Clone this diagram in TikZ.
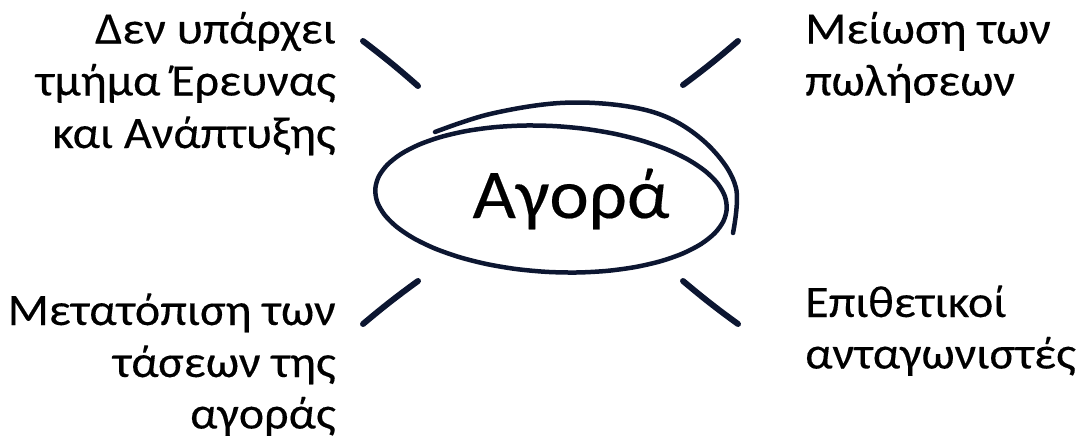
\documentclass[tikz,border=0pt]{standalone}
\usepackage{fontspec}
\setmainfont{Carlito}[FakeStretch=1.07, FakeBold=0.25]
\definecolor{ink}{HTML}{0C1631}
\begin{document}
\begin{tikzpicture}[x=1pt,y=-1pt,
  lbl/.style={inner sep=0pt, font=\fontsize{45}{52}\selectfont, text=black},
  big/.style={inner sep=0pt, font=\fontsize{70}{84}\selectfont, text=black},
  brush/.style={draw=ink, line width=6pt, line cap=round, line join=round},
  loop/.style={draw=ink, line width=4.5pt, line cap=round, line join=round}]
\useasboundingbox (0,0) rectangle (1081,445);
% central ellipse (hand drawn look)
\draw[loop] plot[smooth cycle, domain=0:350, samples=36, variable=\t]
  ({551+176*cos(\t)*0.9984-73*sin(\t)*0.0558},{199+176*cos(\t)*0.0558+73*sin(\t)*0.9984});
\draw[loop] plot[smooth, tension=0.6] coordinates {(435,132) (490,114) (560,103) (625,106) (673,120) (713,150) (736,188) (733,233)};
\node[big, anchor=base] (center) at (571,218) {Αγορά};
% strokes
\coordinate (tlA) at (363,41);  \coordinate (tlB) at (418,86);
\coordinate (trA) at (683,85);  \coordinate (trB) at (738,41);
\coordinate (blA) at (363,324); \coordinate (blB) at (418,281);
\coordinate (brA) at (683,281); \coordinate (brB) at (738,324);
\draw[brush] (tlA) to[bend left=2] (tlB);
\draw[brush] (trA) to[bend right=2] (trB);
\draw[brush] (blA) to[bend left=2] (blB);
\draw[brush] (brA) to[bend right=2] (brB);
% top-left
\node[lbl, anchor=base east] (tl1) at (336,43.5) {Δεν υπάρχει};
\node[lbl, anchor=base east] (tl2) at (336,95.5) {τμήμα Έρευνας};
\node[lbl, anchor=base east] (tl3) at (336,148) {και Ανάπτυξης};
% top-right
\node[lbl, anchor=base west] (tr1) at (805,43.5) {Μείωση των};
\node[lbl, anchor=base west] (tr2) at (805,95.5) {πωλήσεων};
% bottom-left
\node[lbl, anchor=base east] (bl1) at (336,325) {Μετατόπιση των};
\node[lbl, anchor=base east] (bl2) at (336,377) {τάσεων της};
\node[lbl, anchor=base east] (bl3) at (336,428.5) {αγοράς};
% bottom-right
\node[lbl, anchor=base west] (br1) at (805,317) {Επιθετικοί};
\node[lbl, anchor=base west] (br2) at (805,368.5) {ανταγωνιστές};
\end{tikzpicture}
\end{document}
